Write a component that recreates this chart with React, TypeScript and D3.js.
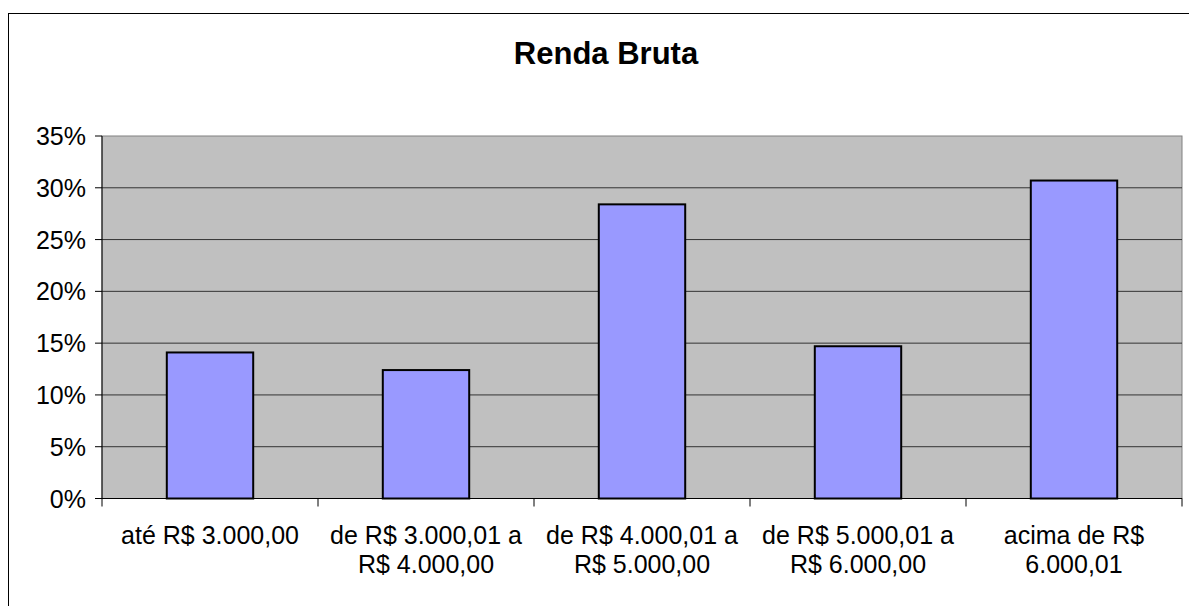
import React from 'react';
import * as d3 from 'd3';

const categories = [
  ['até R$ 3.000,00'],
  ['de R$ 3.000,01 a', 'R$ 4.000,00'],
  ['de R$ 4.000,01 a', 'R$ 5.000,00'],
  ['de R$ 5.000,01 a', 'R$ 6.000,00'],
  ['acima de R$', '6.000,01'],
];
const values = [0.141, 0.124, 0.284, 0.147, 0.307];
const yTicks = [0, 0.05, 0.1, 0.15, 0.2, 0.25, 0.3, 0.35];

const W = 1189;
const H = 606;
const plot = { left: 102, right: 1182, top: 136, bottom: 498.5 };
const font = "'Liberation Sans', Arial, sans-serif";

const App = () => {
  const keys = categories.map((c) => c.join(' '));

  // category bands (tick marks sit on the band edges)
  const x = d3.scaleBand().domain(keys).range([plot.left, plot.right]);
  // bars: Excel gap width 150%
  const xBar = d3
    .scaleBand()
    .domain(keys)
    .range([plot.left, plot.right])
    .paddingInner(0.6)
    .paddingOuter(0.3);
  const y = d3.scaleLinear().domain([0, 0.35]).range([plot.bottom, plot.top]);
  const fmt = d3.format('.0%');

  return (
    <svg
      width={W}
      height={H}
      style={{ position: 'absolute', left: 0, top: 0, background: '#fff' }}
      fontFamily={font}
    >
      {/* chart border */}
      <rect x={8.5} y={13.5} width={1200} height={620} fill="#fff" stroke="#000" strokeWidth={1} />

      <text x={606} y={64} textAnchor="middle" fontSize={31} fontWeight="bold" fill="#000">
        Renda Bruta
      </text>

      {/* plot area */}
      <rect
        x={plot.left}
        y={plot.top}
        width={plot.right - plot.left}
        height={plot.bottom - plot.top}
        fill="#c0c0c0"
        stroke="#808080"
        strokeWidth={1}
      />

      {/* gridlines */}
      {yTicks.slice(1, -1).map((t) => (
        <line
          key={t}
          x1={plot.left}
          x2={plot.right}
          y1={y(t)}
          y2={y(t)}
          stroke="#333"
          strokeWidth={1}
        />
      ))}

      {/* bars */}
      {values.map((v, i) => (
        <rect
          key={keys[i]}
          x={xBar(keys[i])}
          y={y(v)}
          width={xBar.bandwidth()}
          height={y(0) - y(v)}
          fill="#9999ff"
          stroke="#000"
          strokeWidth={2}
        />
      ))}

      {/* y axis */}
      <line x1={plot.left} x2={plot.left} y1={plot.top} y2={plot.bottom} stroke="#000" strokeWidth={1} />
      {yTicks.map((t) => (
        <g key={t}>
          <line x1={plot.left - 7} x2={plot.left} y1={y(t)} y2={y(t)} stroke="#000" strokeWidth={1} />
          <text x={86} y={y(t)} dy="0.36em" textAnchor="end" fontSize={25} fill="#000">
            {fmt(t)}
          </text>
        </g>
      ))}

      {/* x axis */}
      <line x1={plot.left} x2={plot.right} y1={plot.bottom} y2={plot.bottom} stroke="#000" strokeWidth={1} />
      {keys.map((k) => (
        <line
          key={k}
          x1={x(k)}
          x2={x(k)}
          y1={plot.bottom}
          y2={plot.bottom + 8}
          stroke="#000"
          strokeWidth={1}
        />
      ))}
      <line
        x1={plot.right}
        x2={plot.right}
        y1={plot.bottom}
        y2={plot.bottom + 8}
        stroke="#000"
        strokeWidth={1}
      />
      {categories.map((lines, i) => (
        <text
          key={keys[i]}
          x={(x(keys[i]) as number) + x.bandwidth() / 2}
          y={544}
          textAnchor="middle"
          fontSize={25}
          fill="#000"
        >
          {lines.map((l, j) => (
            <tspan key={j} x={(x(keys[i]) as number) + x.bandwidth() / 2} dy={j === 0 ? 0 : 29}>
              {l}
            </tspan>
          ))}
        </text>
      ))}
    </svg>
  );
};

export default App;
